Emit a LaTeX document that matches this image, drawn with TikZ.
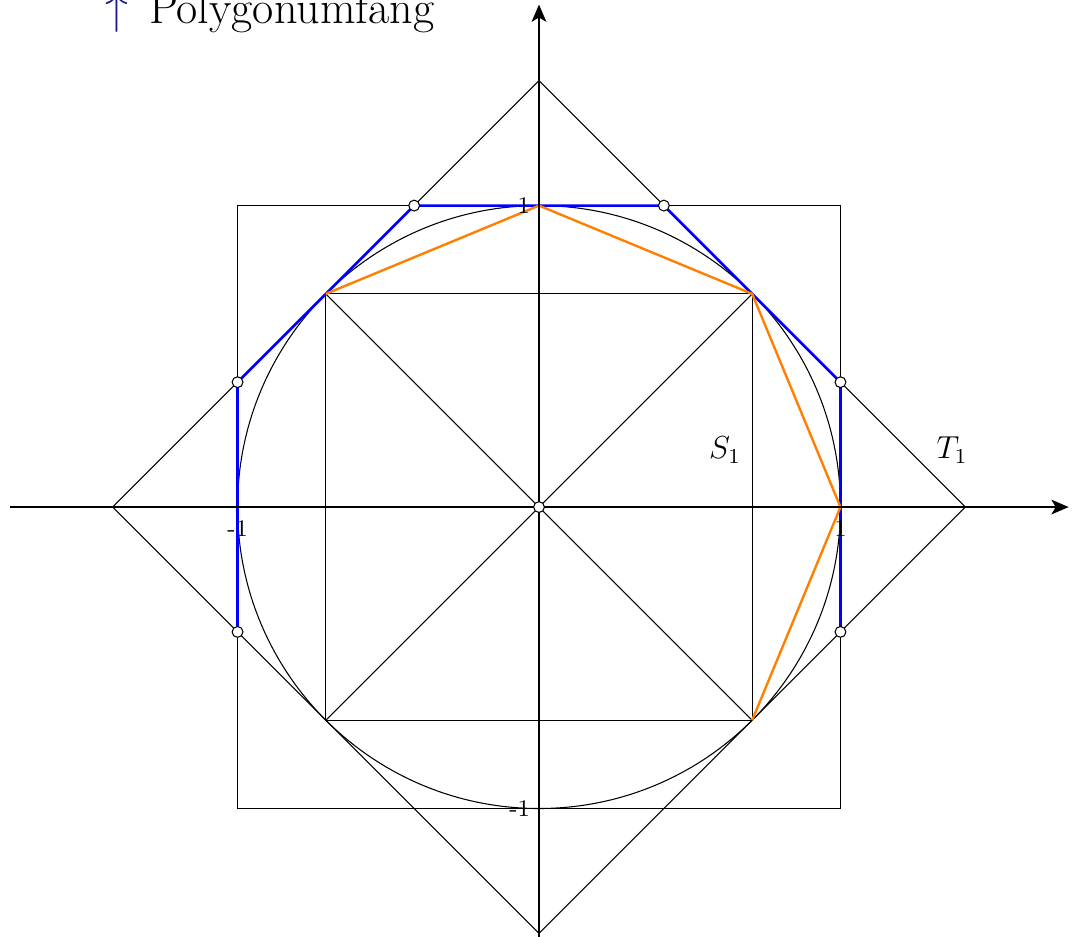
\documentclass[tikz,border=0pt]{standalone}
\usetikzlibrary{arrows.meta}
\definecolor{navy}{RGB}{25,25,135}
\definecolor{orng}{RGB}{255,128,0}
\begin{document}
\begin{tikzpicture}[x=4cm,y=4cm,
  thinline/.style={line width=0.4pt,black},
  axisline/.style={line width=0.8pt,black,-{Stealth[length=6.5pt,width=5.5pt,inset=1.6pt]}},
  bluepoly/.style={line width=1pt,blue,line join=round},
  orangepoly/.style={line width=0.9pt,orng,line join=round},
  opendot/.style={circle,draw=black,fill=white,line width=0.4pt,inner sep=0pt,minimum size=4.1pt},
  ticklab/.style={font=\small,inner sep=1pt},
  seglab/.style={font=\large}
]
\useasboundingbox (-1.788,-1.426) rectangle (1.778,1.682);
% named points
\coordinate (O) at (0,0);
\coordinate (A1) at (-1,-1); \coordinate (A2) at (1,-1);
\coordinate (A3) at (1,1);   \coordinate (A4) at (-1,1);
\coordinate (B1) at (-0.7071,-0.7071); \coordinate (B2) at (0.7071,-0.7071);
\coordinate (B3) at (0.7071,0.7071);   \coordinate (B4) at (-0.7071,0.7071);
\coordinate (D1) at (-1.4142,0); \coordinate (D2) at (0,-1.4142);
\coordinate (D3) at (1.4142,0);  \coordinate (D4) at (0,1.4142);
\coordinate (P1) at (-1,-0.4142); \coordinate (P2) at (-1,0.4142);
\coordinate (P3) at (-0.4142,1);  \coordinate (P4) at (0.4142,1);
\coordinate (P5) at (1,0.4142);   \coordinate (P6) at (1,-0.4142);
\coordinate (E) at (1,0); \coordinate (N) at (0,1);
\coordinate (XL) at (-1.755,0); \coordinate (XR) at (1.757,0);
\coordinate (YB) at (0,-1.43);  \coordinate (YT) at (0,1.667);
% black construction
\draw[thinline] (O) circle[radius=1];
\draw[thinline] (A1) -- (A2) -- (A3) -- (A4) -- cycle;
\draw[thinline] (B1) -- (B2) -- (B3) -- (B4) -- cycle;
\draw[thinline] (D1) -- (D2) -- (D3) -- (D4) -- cycle;
\draw[thinline] (B1) -- (B3);
\draw[thinline] (B2) -- (B4);
% polygons
\draw[bluepoly] (P1) -- (P2) -- (P3) -- (P4) -- (P5) -- (P6);
\draw[orangepoly] (B4) -- (N) -- (B3) -- (E) -- (B2);
% axes
\draw[axisline] (XL) -- (XR);
\draw[axisline] (YB) -- (YT);
% labels
\node[ticklab,anchor=east] (l1) at (-0.02,1) {1};
\node[ticklab,anchor=east] (lm1) at (-0.02,-1) {-1};
\node[ticklab,anchor=north] (lx1) at (1,-0.035) {1};
\node[ticklab,anchor=north] (lxm1) at (-1,-0.035) {-1};
\node[seglab] (S) at (0.617,0.189) {$S_1$};
\node[seglab] (T) at (1.370,0.189) {$T_1$};
\node[anchor=base west,inner sep=0pt,font=\fontsize{17.4}{21}\selectfont] (title) at (-1.44,1.605) {\textcolor{navy}{$\uparrow$}\hspace{0.45em}Polygonumfang};
% dots
\foreach \p in {P1,P2,P3,P4,P5,P6,O} \node[opendot] at (\p) {};
\end{tikzpicture}
\end{document}
